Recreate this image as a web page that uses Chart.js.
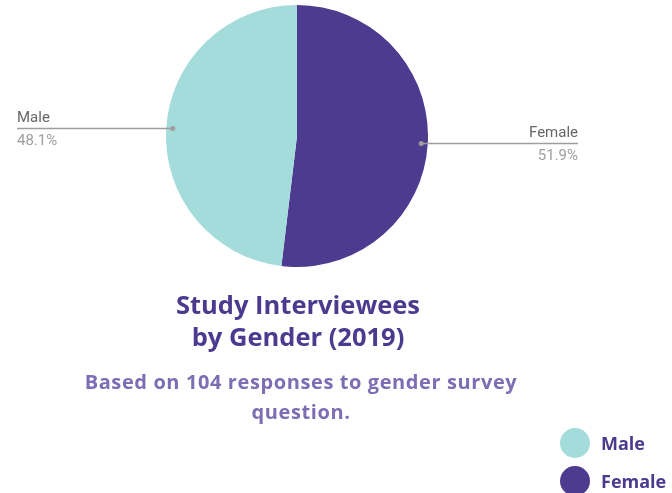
<!DOCTYPE html>
<html>
<head>
<meta charset="utf-8">
<script src="https://cdn.jsdelivr.net/npm/chart.js@4"></script>
<style>
    body { margin: 0; background: #fff; }
    #wrap { position: relative; width: 672px; height: 493px; overflow: hidden; }
    #pieChart { position: absolute; left: 0; top: 0; }
    .title { position: absolute; left: 48px; width: 500px; top: 288px; text-align: center;
        font-family: "Open Sans", sans-serif; font-weight: 700; font-size: 25.5px; line-height: 32px; color: #4B3A8E; }
    .subtitle { position: absolute; left: 0px; width: 602px; top: 367px; text-align: center;
        font-family: "Open Sans", sans-serif; font-weight: 700; font-size: 20px; letter-spacing: 0.6px;
        line-height: 30px; color: #7D6DB2; }
    .legend { position: absolute; left: 560px; top: 424px; font-family: "Open Sans", sans-serif; font-weight: 700;
        font-size: 18px; color: #4B3A8E; }
    .legend div { height: 38px; display: flex; align-items: center; }
    .legend span.dot { width: 30px; height: 30px; border-radius: 50%; display: inline-block; margin-right: 11px; }
</style>
</head>
<body>
<div id="wrap">
    <canvas id="pieChart" width="672" height="493"></canvas>
    <div class="title">Study Interviewees<br>by Gender (2019)</div>
    <div class="subtitle">Based on 104 responses to gender survey<br>question.</div>
    <div class="legend" id="legend"></div>
</div>
<script>
const categories = ['Female', 'Male'];
const shares = [51.9, 48.1];
const colors = ['#4C3B8E', '#A4DCDB'];
const legendOrder = ['Male', 'Female'];

// legend (bottom right)
var legendBox = document.getElementById('legend');
legendOrder.forEach(function (name) {
    var i = categories.indexOf(name);
    var row = document.createElement('div');
    row.innerHTML = "<span class='dot' style='background:" + colors[i] + "'></span>" + name;
    legendBox.appendChild(row);
});

// labels with horizontal leader lines
const leaderLabels = {
    id: 'leaderLabels',
    afterDatasetsDraw(chart) {
        const ctx = chart.ctx;
        const meta = chart.getDatasetMeta(0);
        meta.data.forEach(function (arc, i) {
            const p = arc.getProps(['x', 'y', 'startAngle', 'endAngle', 'outerRadius'], true);
            const mid = (p.startAngle + p.endAngle) / 2;
            const r = p.outerRadius * 0.95;
            const px = p.x + Math.cos(mid) * r;
            const py = p.y + Math.sin(mid) * r;
            const right = Math.cos(mid) > 0;
            const endX = right ? 578 : 17;
            ctx.save();
            ctx.strokeStyle = '#9E9E9E';
            ctx.fillStyle = '#9E9E9E';
            ctx.lineWidth = 1.5;
            ctx.beginPath();
            ctx.moveTo(px, py);
            ctx.lineTo(endX, py);
            ctx.stroke();
            ctx.beginPath();
            ctx.arc(px, py, 2.5, 0, Math.PI * 2);
            ctx.fill();
            ctx.font = '15px Roboto';
            ctx.textAlign = right ? 'right' : 'left';
            ctx.textBaseline = 'middle';
            ctx.fillStyle = '#666666';
            ctx.fillText(categories[i], endX, py - 10);
            ctx.fillStyle = '#9E9E9E';
            ctx.fillText(shares[i].toFixed(1) + '%', endX, py + 13);
            ctx.restore();
        });
    }
};

new Chart(document.getElementById('pieChart').getContext('2d'), {
    type: 'pie',
    data: {
        labels: categories,
        datasets: [{
            data: shares,
            backgroundColor: colors,
            borderWidth: 0
        }]
    },
    options: {
        responsive: false,
        animation: false,
        layout: { padding: { left: 166, right: 244, top: 5, bottom: 226 } },
        plugins: {
            legend: { display: false },
            tooltip: { enabled: false }
        }
    },
    plugins: [leaderLabels]
});
</script>
</body>
</html>
